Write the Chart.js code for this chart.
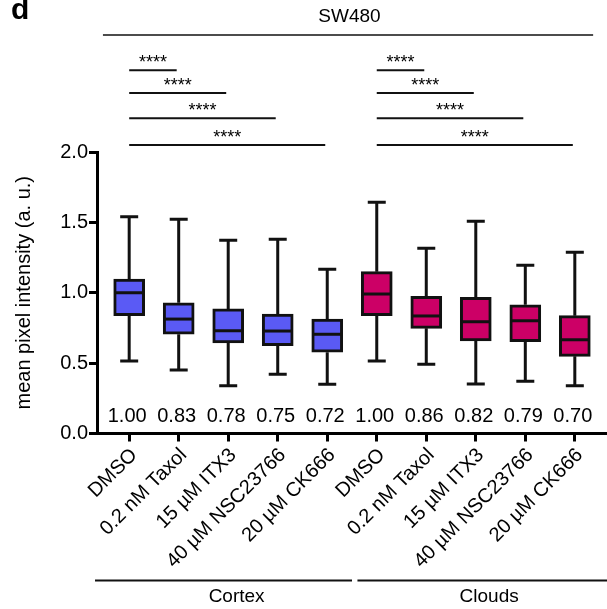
<!DOCTYPE html>
<html>
<head>
<meta charset="utf-8">
<script src="https://cdn.jsdelivr.net/npm/chart.js@4.4.1/dist/chart.umd.min.js"></script>
<style>
  html, body { margin: 0; padding: 0; background: #fff; }
  #wrap { width: 607px; height: 609px; }
</style>
</head>
<body>
<div id="wrap"><canvas id="boxChart" width="607" height="609"></canvas></div>
<script>
// treatments, Cortex first then Clouds
const treatments = ['DMSO', '0.2 nM Taxol', '15 µM ITX3', '40 µM NSC23766', '20 µM CK666',
                    'DMSO', '0.2 nM Taxol', '15 µM ITX3', '40 µM NSC23766', '20 µM CK666'];
const groups = ['Cortex', 'Clouds'];

// box plot summaries (min-to-max whiskers)
const whiskerLow  = [0.515, 0.451, 0.340, 0.421, 0.350, 0.515, 0.492, 0.352, 0.371, 0.340];
const q1          = [0.837, 0.705, 0.643, 0.624, 0.577, 0.837, 0.747, 0.657, 0.652, 0.548];
const medians     = [1.000, 0.813, 0.730, 0.728, 0.705, 0.991, 0.835, 0.794, 0.801, 0.666];
const q3          = [1.098, 0.929, 0.885, 0.849, 0.813, 1.150, 0.975, 0.968, 0.915, 0.837];
const whiskerHigh = [1.540, 1.522, 1.373, 1.380, 1.167, 1.643, 1.316, 1.508, 1.195, 1.287];
const means       = [1.00, 0.83, 0.78, 0.75, 0.72, 1.00, 0.86, 0.82, 0.79, 0.70];

// pairwise tests against DMSO
const comparisons = [[0, 1], [0, 2], [0, 3], [0, 4], [5, 6], [5, 7], [5, 8], [5, 9]];
const significance = ['****', '****', '****', '****', '****', '****', '****', '****'];

const yTicks = [0, 0.5, 1.0, 1.5, 2.0];

const BLUE = '#5a5af5';
const PINK = '#cc0066';
const INK = '#111';
const FONT = "'Liberation Sans', Arial, Helvetica, sans-serif";

Chart.defaults.font.family = FONT;
Chart.defaults.color = '#000';

const boxExtras = {
  id: 'boxExtras',
  beforeDatasetsDraw(chart) {
    const { ctx, scales: { x, y } } = chart;
    ctx.save();
    ctx.strokeStyle = INK;
    ctx.lineWidth = 3;
    treatments.forEach((_, i) => {
      const px = x.getPixelForValue(i);
      const hi = y.getPixelForValue(whiskerHigh[i]);
      const lo = y.getPixelForValue(whiskerLow[i]);
      ctx.beginPath();
      ctx.moveTo(px, hi);
      ctx.lineTo(px, y.getPixelForValue(q3[i]));
      ctx.moveTo(px, y.getPixelForValue(q1[i]));
      ctx.lineTo(px, lo);
      ctx.moveTo(px - 9, hi);
      ctx.lineTo(px + 9, hi);
      ctx.moveTo(px - 9, lo);
      ctx.lineTo(px + 9, lo);
      ctx.stroke();
    });
    ctx.restore();
  },
  afterDraw(chart) {
    const { ctx, scales: { x, y } } = chart;
    const bars = chart.getDatasetMeta(0).data;
    ctx.save();

    // median lines
    ctx.strokeStyle = INK;
    ctx.lineWidth = 3;
    treatments.forEach((_, i) => {
      const px = x.getPixelForValue(i);
      const half = bars[i].width / 2 - 1.5;
      const py = y.getPixelForValue(medians[i]);
      ctx.beginPath();
      ctx.moveTo(px - half, py);
      ctx.lineTo(px + half, py);
      ctx.stroke();
    });

    // mean values above the axis
    ctx.fillStyle = '#000';
    ctx.font = '20px ' + FONT;
    ctx.textAlign = 'center';
    ctx.textBaseline = 'middle';
    means.forEach((m, i) => {
      ctx.fillText(m.toFixed(2), x.getPixelForValue(i) - 2, y.getPixelForValue(0.12));
    });

    // significance brackets, shortest on top
    const levels = [2.58, 2.42, 2.24, 2.05];
    ctx.lineWidth = 2;
    ctx.font = '18px ' + FONT;
    ctx.textBaseline = 'alphabetic';
    comparisons.forEach(([a, b], k) => {
      const ly = y.getPixelForValue(levels[k % 4]);
      const xa = x.getPixelForValue(a);
      const xb = x.getPixelForValue(b) - 2;
      ctx.beginPath();
      ctx.moveTo(xa, ly);
      ctx.lineTo(xb, ly);
      ctx.stroke();
      ctx.fillText(significance[k], (xa + xb) / 2, ly - 2);
    });

    // cell line header
    ctx.lineWidth = 1.5;
    ctx.beginPath();
    ctx.moveTo(x.getPixelForValue(-0.53), 35);
    ctx.lineTo(x.getPixelForValue(9.37), 35);
    ctx.stroke();
    ctx.font = '19px ' + FONT;
    ctx.textBaseline = 'middle';
    ctx.fillText('SW480', x.getPixelForValue(4.45), 17);

    // group brackets under the labels
    const groupSpans = [[-0.69, 4.5, 2.17], [4.61, 9.65, 7.27]];
    ctx.lineWidth = 2;
    groupSpans.forEach(([from, to, mid], g) => {
      ctx.beginPath();
      ctx.moveTo(x.getPixelForValue(from), 580.5);
      ctx.lineTo(x.getPixelForValue(to), 580.5);
      ctx.stroke();
      ctx.fillText(groups[g], x.getPixelForValue(mid), 597);
    });

    // panel letter
    ctx.font = 'bold 30px ' + FONT;
    ctx.textAlign = 'left';
    ctx.textBaseline = 'alphabetic';
    ctx.fillText('d', 11, 18.5);
    ctx.restore();
  }
};

new Chart(document.getElementById('boxChart'), {
  type: 'bar',
  data: {
    datasets: [{
      data: treatments.map((_, i) => ({ x: i, y: [q1[i], q3[i]] })),
      backgroundColor: treatments.map((_, i) => (i < 5 ? BLUE : PINK)),
      borderColor: INK,
      borderWidth: 3,
      borderSkipped: false,
      barThickness: 31
    }]
  },
  options: {
    responsive: false,
    animation: false,
    layout: { padding: { top: 152, right: 0, bottom: 0, left: 0 } },
    plugins: { legend: { display: false }, tooltip: { enabled: false } },
    scales: {
      x: {
        type: 'linear',
        offset: false,
        min: -0.65,
        max: 9.65,
        afterBuildTicks: s => { s.ticks = treatments.map((_, i) => ({ value: i })); },
        afterFit: s => {
          s.height = 175.5;
          s.paddingLeft = 0;
          s.paddingRight = 0;
        },
        border: { color: '#000', width: 3 },
        grid: { offset: false, drawOnChartArea: false, tickLength: 8, tickWidth: 3, color: '#000' },
        ticks: {
          autoSkip: false,
          maxRotation: 45,
          minRotation: 45,
          padding: 2,
          labelOffset: 5,
          font: { size: 20 },
          callback: v => treatments[v]
        }
      },
      y: {
        min: 0,
        max: 2,
        afterBuildTicks: s => { s.ticks = yTicks.map(v => ({ value: v })); },
        afterFit: s => { s.width = 97; },
        border: { color: '#000', width: 3 },
        grid: { drawOnChartArea: false, tickLength: 8, tickWidth: 3, color: '#000' },
        ticks: { padding: 1, font: { size: 20 }, callback: v => v.toFixed(1) },
        title: {
          display: true,
          text: 'mean pixel intensity (a. u.)',
          font: { size: 20 },
          padding: { top: 12, bottom: 0 }
        }
      }
    }
  },
  plugins: [boxExtras]
});
</script>
</body>
</html>
